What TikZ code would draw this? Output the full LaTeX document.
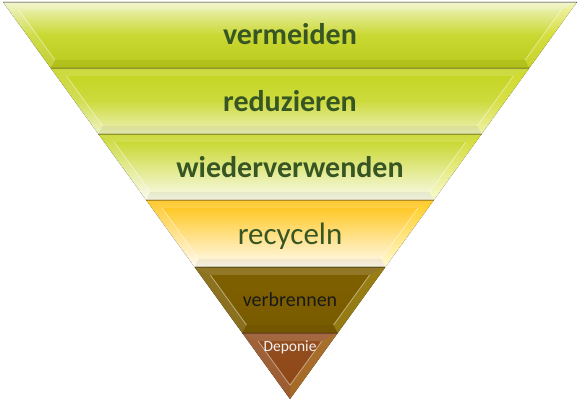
\documentclass[tikz,border=0pt]{standalone}
\usepackage{fontspec}
\setmainfont{Carlito}
\usetikzlibrary{positioning}

\definecolor{pyrLime}{HTML}{C4D41C}
\definecolor{pyrOrange}{HTML}{FFC20E}
\definecolor{pyrOlive}{HTML}{7F6000}
\definecolor{pyrBrown}{HTML}{8E4514}
\definecolor{pyrText}{HTML}{375623}

\tikzset{
	layA/.style={top color=pyrLime!25, bottom color=pyrLime!95!black, middle color=pyrLime!90},
	layB/.style={top color=pyrLime, bottom color=pyrLime!30, middle color=pyrLime!85},
	layC/.style={top color=pyrLime, bottom color=pyrLime!8},
	layD/.style={top color=pyrOrange, bottom color=pyrOrange!6},
	layE/.style={top color=pyrOlive, bottom color=pyrOlive!95!black},
	layF/.style={top color=pyrBrown!95!white, bottom color=pyrBrown},
	bevelline/.style={white,opacity=.45,line width=.8pt},
	sepline/.style={black,opacity=.3,line width=.7pt},
	lblBold/.style={anchor=base,text=pyrText,font=\fontsize{30}{36}\selectfont\bfseries},
	lblPlain/.style={anchor=base,font=\fontsize{#1}{#1}\selectfont},
}

\begin{document}
\begin{tikzpicture}[x=1pt,y=-1pt]
	\useasboundingbox (0,0) rectangle (581,403);
	% layers with bevel
	\foreach \ya/\yb/\sty in {2/68/layA,68/134/layB,134/200/layC,200/267/layD,267/333/layE,333/399/layF}{
		\pgfmathsetmacro\hwA{0.7229*(399-\ya)}
		\pgfmathsetmacro\hwB{0.7229*(399-\yb)}
		\pgfmathsetmacro\yc{\ya+8}
		\pgfmathsetmacro\yd{min(\yb-8,385)}
		\pgfmathsetmacro\hwC{0.7229*(399-\yc)-10}
		\pgfmathsetmacro\hwD{max(0.7229*(399-\yd)-10,0)}
		\fill[\sty] (290-\hwA,\ya) -- (290+\hwA,\ya) -- (290+\hwB,\yb) -- (290-\hwB,\yb) -- cycle;
		\fill[white,opacity=.12] (290-\hwA,\ya) -- (290-\hwC,\yc) -- (290-\hwD,\yd) -- (290-\hwB,\yb) -- cycle;
		\fill[yellow!60!white,opacity=.2] (290+\hwA,\ya) -- (290+\hwC,\yc) -- (290+\hwD,\yd) -- (290+\hwB,\yb) -- cycle;
		\fill[white,opacity=.15] (290-\hwA,\ya) -- (290+\hwA,\ya) -- (290+\hwC,\yc) -- (290-\hwC,\yc) -- cycle;
		\fill[black,opacity=.05] (290-\hwB,\yb) -- (290+\hwB,\yb) -- (290+\hwD,\yd) -- (290-\hwD,\yd) -- cycle;
		\draw[bevelline] (290-\hwC,\yc) -- (290-\hwD,\yd);
		\draw[bevelline] (290+\hwC,\yc) -- (290+\hwD,\yd);
		\draw[sepline] (290-\hwA,\ya) -- (290+\hwA,\ya);
	}
	% labels
	\node[lblBold] (vermeiden) at (290,45) {vermeiden};
	\node[lblBold] (reduzieren) at (290,112) {reduzieren};
	\node[lblBold] (wiederverw) at (290,178) {wiederverwenden};
	\node[lblPlain=31,text=pyrText] (recyceln) at (290,245) {recyceln};
	\node[lblPlain=20,text=black!90] (verbrennen) at (290,307) {verbrennen};
	\node[lblPlain=15.5,text=white!95!black] (deponie) at (290,352) {Deponie};
\end{tikzpicture}
\end{document}
